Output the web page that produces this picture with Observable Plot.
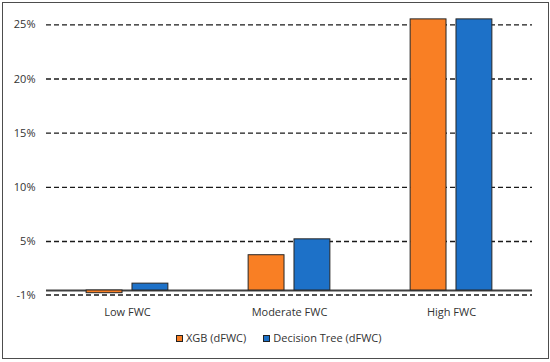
<!DOCTYPE html>
<html>
<head>
<meta charset="utf-8">
<script src="https://cdn.jsdelivr.net/npm/d3@7"></script>
<script src="https://cdn.jsdelivr.net/npm/@observablehq/plot@0.6"></script>
<style>
  html, body { margin: 0; padding: 0; background: #fff; }
  #wrap { position: relative; width: 550px; height: 362px; overflow: hidden; font-family: "Open Sans", sans-serif; }
  #border { position: absolute; left: 2px; top: 2px; width: 547px; height: 357px; box-sizing: border-box; border: 1.3px solid #4d4d4d; pointer-events: none; }
  #chart { position: absolute; left: 0; top: 0; }
  #legend { position: absolute; left: 176px; top: 331px; font-size: 11px; line-height: 14px; color: #333; white-space: nowrap; }
  #legend .item { display: inline-block; margin-right: 17px; }
  #legend .sw { display: inline-block; width: 7px; height: 7px; box-sizing: border-box; border: 1px solid #222; margin-right: 3px; vertical-align: baseline; }
</style>
</head>
<body>
<div id="wrap">
  <div id="chart"></div>
  <div id="legend"></div>
  <div id="border"></div>
</div>
<script>
const groups = ["Low FWC", "Moderate FWC", "High FWC"];
const series = ["XGB (dFWC)", "Decision Tree (dFWC)"];
const xgbValues = [-0.6, 3.6, 25.5];
const treeValues = [0.7, 5.2, 25.5];
const yTicks = [-1, 5, 10, 15, 20, 25];
const colors = ["#F97F24", "#1D71C8"];

const rows = [];
groups.forEach((g, i) => {
  rows.push({group: g, series: series[0], value: xgbValues[i]});
  rows.push({group: g, series: series[1], value: treeValues[i]});
});

const chart = Plot.plot({
  width: 550,
  height: 325,
  marginLeft: 45,
  marginRight: 18,
  marginTop: 19,
  marginBottom: 35,
  style: {fontFamily: "'Open Sans', sans-serif", fontSize: "11px", color: "#333", background: "transparent"},
  fx: {domain: groups, padding: 0, label: null, axis: null},
  x: {domain: series, paddingInner: 10 / 46, paddingOuter: 0.875, round: false, axis: null, label: null},
  y: {type: "linear", domain: [-1, 0, 5, 25], range: [294.5, 290, 241, 24.3], interpolate: "number", label: null, axis: null},
  color: {domain: series, range: colors},
  marks: [
    Plot.ruleY(yTicks, {stroke: "#1a1a1a", strokeWidth: 1.3, strokeDasharray: "5,3"}),
    Plot.ruleY([0], {stroke: "#404040", strokeWidth: 1.8}),
    Plot.barY(rows, {fx: "group", x: "series", y1: 0, y2: "value", fill: "series", stroke: "#262626", strokeWidth: 1}),
    Plot.axisY({ticks: yTicks, tickFormat: d => d + "%", tickSize: 0, tickPadding: 11, line: true, stroke: "#404040", strokeWidth: 2, fill: "#333", fontSize: 11, label: null}),
    Plot.axisFx({anchor: "bottom", tickSize: 0, tickPadding: 18, fill: "#333", fontSize: 11, label: null})
  ]
});
document.getElementById("chart").appendChild(chart);

const legend = document.getElementById("legend");
series.forEach((s, i) => {
  const item = document.createElement("span");
  item.className = "item";
  const sw = document.createElement("span");
  sw.className = "sw";
  sw.style.background = colors[i];
  item.appendChild(sw);
  item.appendChild(document.createTextNode(s));
  legend.appendChild(item);
});
</script>
</body>
</html>
